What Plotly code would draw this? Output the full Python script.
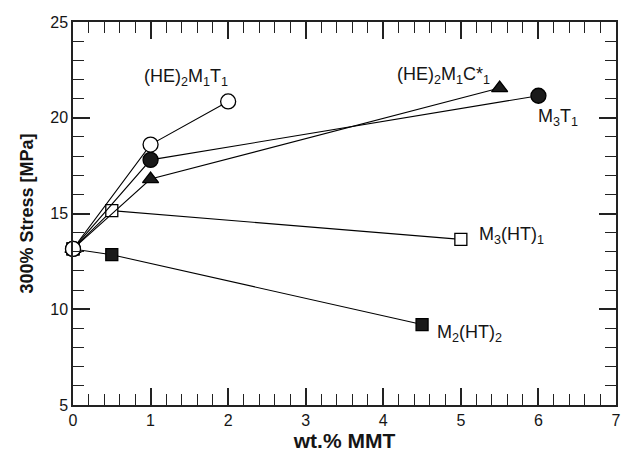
import plotly.graph_objects as go

# Data
series_names = ["(HE)2M1T1", "M3T1", "(HE)2M1C*1", "M3(HT)1", "M2(HT)2"]
x_he_t = [0, 1, 2]
y_he_t = [13.15, 18.6, 20.85]
x_m3t1 = [0, 1, 6]
y_m3t1 = [13.15, 17.8, 21.15]
x_he_c = [0, 1, 5.5]
y_he_c = [13.15, 16.8, 21.55]
x_m3ht = [0, 0.5, 5]
y_m3ht = [13.15, 15.15, 13.65]
x_m2ht = [0, 0.5, 4.5]
y_m2ht = [13.15, 12.85, 9.2]

labels = ["(HE)<sub>2</sub>M<sub>1</sub>T<sub>1</sub>",
          "M<sub>3</sub>T<sub>1</sub>",
          "(HE)<sub>2</sub>M<sub>1</sub>C*<sub>1</sub>",
          "M<sub>3</sub>(HT)<sub>1</sub>",
          "M<sub>2</sub>(HT)<sub>2</sub>"]
label_x = [1.46, 6.25, 4.77, 5.65, 5.11]
label_y = [22.1, 20.0, 22.2, 13.85, 8.75]

FONT = "Liberation Sans, Arial, sans-serif"
INK = "#151515"

fig = go.Figure()

def add(x, y, symbol, fill, size):
    fig.add_trace(go.Scatter(
        x=x, y=y, mode="lines+markers",
        line=dict(color="black", width=1.1),
        marker=dict(symbol=symbol, size=size, color=fill,
                    line=dict(color="black", width=1.3)),
        showlegend=False, cliponaxis=False))

add(x_m2ht, y_m2ht, "square", "#1a1a1a", 12)
add(x_m3ht, y_m3ht, "square", "white", 12)
add(x_he_c, y_he_c, "triangle-up", "#1a1a1a", 14)
add(x_m3t1, y_m3t1, "circle", "#1a1a1a", 15)
add(x_he_t, y_he_t, "circle", "white", 15)

for t, lx, ly in zip(labels, label_x, label_y):
    fig.add_annotation(x=lx, y=ly, text=t, showarrow=False,
                       font=dict(family=FONT, size=18, color=INK))

axis_common = dict(
    showline=True, linecolor="#222", linewidth=1.5, mirror="allticks",
    ticks="inside", ticklen=17, tickwidth=1.5, tickcolor="#222",
    showgrid=False, zeroline=False,
    tickfont=dict(family=FONT, size=16, color=INK),
)

fig.update_xaxes(range=[0, 7], dtick=1, tick0=0, ticklabeloverflow="allow",
                 minor=dict(dtick=0.2, ticks="inside", ticklen=11, tickwidth=1.2, tickcolor="#222", showgrid=False),
                 title=dict(text="<b>wt.% MMT</b>", font=dict(family=FONT, size=21, color=INK), standoff=5),
                 **axis_common)
fig.update_yaxes(range=[5, 25], dtick=5, tick0=0,
                 minor=dict(dtick=1, ticks="inside", ticklen=11, tickwidth=1.2, tickcolor="#222", showgrid=False),
                 title=dict(text="<b>300% Stress [MPa]</b>", font=dict(family=FONT, size=18, color=INK), standoff=12),
                 **axis_common)

fig.update_layout(width=622, height=458, margin=dict(l=73, r=1, t=22, b=53),
                  plot_bgcolor="white", paper_bgcolor="white")

fig.write_html("out.html")
